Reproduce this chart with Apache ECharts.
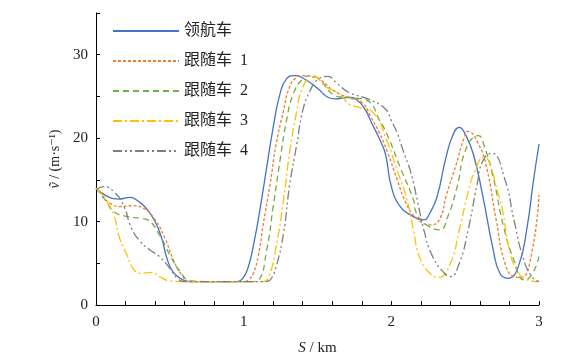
<!DOCTYPE html>
<html><head><meta charset="utf-8">
<script src="https://cdn.jsdelivr.net/npm/echarts@6/dist/echarts.min.js"></script>
<style>html,body{margin:0;padding:0;background:#fff}#c{width:565px;height:363px}</style>
</head><body><div id="c"></div>
<script>
const seriesNames = ['领航车', '跟随车  1', '跟随车  2', '跟随车  3', '跟随车  4'];
const xTickLabels = ['0', '1', '2', '3'];
const yTickLabels = ['0', '10', '20', '30'];

const leader = [[0,14.0],[0.08,13.0],[0.16,12.7],[0.23,12.9],[0.29,12.4],[0.34,11.6],[0.40,10.0],[0.445,8.0],[0.48,5.6],[0.52,4.0],[0.57,3.2],[0.63,2.8],[0.8,2.8],[0.95,2.8],[0.99,3.1],[1.03,4.5],[1.07,7.5],[1.11,11.4],[1.156,16.5],[1.20,21.3],[1.246,25.3],[1.29,27.1],[1.35,27.5],[1.42,27.0],[1.505,25.9],[1.57,24.9],[1.62,24.7],[1.71,24.9],[1.765,24.6],[1.82,23.5],[1.87,21.7],[1.92,19.9],[1.96,18.1],[2.00,14.2],[2.06,11.8],[2.13,10.8],[2.22,10.2],[2.26,11.0],[2.31,13.0],[2.37,17.7],[2.42,20.5],[2.46,21.3],[2.50,20.5],[2.555,18.1],[2.62,13.0],[2.69,6.6],[2.735,3.8],[2.79,3.2],[2.86,4.6],[2.92,9.4],[2.96,14.6],[3.0,19.3]];
const follower1 = [[0,14.0],[0.05,13.0],[0.095,12.2],[0.16,11.8],[0.25,11.9],[0.32,11.6],[0.40,10.2],[0.467,8.0],[0.52,5.6],[0.58,3.6],[0.64,2.8],[0.8,2.8],[1.0,2.8],[1.03,3.0],[1.065,3.8],[1.10,6.0],[1.13,9.4],[1.18,14.6],[1.22,19.3],[1.27,23.3],[1.31,26.1],[1.36,27.3],[1.40,27.5],[1.47,27.3],[1.52,27.0],[1.61,25.7],[1.72,24.8],[1.80,24.3],[1.86,22.6],[1.92,20.6],[1.97,18.5],[2.04,15.0],[2.10,12.2],[2.17,10.4],[2.27,9.6],[2.33,10.4],[2.37,13.0],[2.44,16.9],[2.49,19.9],[2.52,20.8],[2.59,19.3],[2.645,16.5],[2.71,10.2],[2.77,5.0],[2.83,3.4],[2.88,3.3],[2.95,6.2],[3.0,13.2]];
const follower2 = [[0,14.0],[0.07,12.4],[0.12,11.2],[0.21,10.6],[0.30,10.4],[0.35,10.2],[0.43,8.4],[0.50,6.0],[0.57,4.0],[0.64,2.9],[0.8,2.8],[1.05,2.8],[1.10,3.0],[1.156,6.6],[1.20,11.8],[1.246,17.3],[1.29,22.1],[1.336,25.3],[1.40,27.1],[1.46,27.5],[1.52,26.9],[1.60,25.3],[1.67,24.9],[1.76,24.8],[1.855,24.3],[1.91,22.5],[1.97,20.5],[2.06,16.5],[2.15,12.6],[2.17,11.0],[2.24,9.6],[2.33,9.0],[2.38,10.5],[2.44,13.8],[2.51,18.9],[2.59,20.3],[2.63,19.0],[2.69,15.3],[2.76,9.4],[2.83,5.4],[2.90,3.0],[2.95,3.6],[3.0,5.8]];
const follower3 = [[0,14.0],[0.05,13.0],[0.12,10.8],[0.16,8.0],[0.21,6.0],[0.25,4.4],[0.30,3.8],[0.38,3.9],[0.43,3.4],[0.50,2.9],[0.6,2.8],[1.0,2.8],[1.13,2.8],[1.17,3.4],[1.22,7.0],[1.27,12.6],[1.31,18.1],[1.36,23.3],[1.40,26.1],[1.47,27.5],[1.56,26.1],[1.65,25.3],[1.72,24.0],[1.78,23.7],[1.88,23.0],[1.97,19.7],[2.04,16.1],[2.10,13.0],[2.15,9.0],[2.19,5.8],[2.26,3.8],[2.32,3.3],[2.40,5.0],[2.46,9.0],[2.52,13.5],[2.56,15.8],[2.63,17.8],[2.67,16.8],[2.71,14.2],[2.75,11.6],[2.80,6.6],[2.85,4.2],[2.92,3.0],[3.0,2.8]];
const follower4 = [[0,13.8],[0.05,14.2],[0.12,13.6],[0.185,12.0],[0.24,9.2],[0.30,7.6],[0.365,6.6],[0.43,5.8],[0.50,4.4],[0.55,3.2],[0.6,2.8],[1.0,2.8],[1.15,2.8],[1.18,3.0],[1.22,4.6],[1.27,8.6],[1.31,14.2],[1.36,19.3],[1.40,23.3],[1.45,25.7],[1.50,27.0],[1.57,27.4],[1.63,26.6],[1.71,25.5],[1.84,24.7],[1.96,23.5],[2.00,22.1],[2.04,20.6],[2.08,18.5],[2.13,16.0],[2.18,12.2],[2.22,9.0],[2.28,5.8],[2.36,3.8],[2.40,3.4],[2.46,5.0],[2.52,9.0],[2.58,14.4],[2.62,17.3],[2.68,18.2],[2.77,15.0],[2.83,10.2],[2.89,5.8],[2.95,3.4],[3.0,2.8]];

const allData = [leader, follower1, follower2, follower3, follower4];
const colors = ['#4472C4', '#ED7D31', '#70AD47', '#FFC000', '#7F7F7F'];
const dashes = ['solid', [3, 2], [6, 4], [9, 3, 2, 3], [9, 3, 2, 3, 2, 3]];

const serif = 'Liberation Serif, "DejaVu Serif", "Noto Sans CJK SC", serif';
const chart = echarts.init(document.getElementById('c'));
chart.setOption({
  animation: false,
  grid: { left: 96, right: 26, top: 13, bottom: 58 },
  legend: {
    orient: 'vertical', left: 112, top: 23, padding: 0,
    itemWidth: 66, itemHeight: 14, itemGap: 14,
    itemStyle: { opacity: 0 },
    textStyle: { fontFamily: serif, fontSize: 16, color: '#222' },
    data: seriesNames
  },
  xAxis: {
    type: 'value', min: 0, max: 3, interval: 0.2,
    name: '{i|S} / km', nameLocation: 'middle', nameGap: 36,
    nameTextStyle: { fontFamily: serif, fontSize: 15, color: '#222',
      rich: { i: { fontStyle: 'italic', fontFamily: serif, fontSize: 15, color: '#222' } } },
    axisLine: { lineStyle: { color: '#000', width: 1 } },
    axisTick: { inside: true, length: 4, lineStyle: { color: '#000' } },
    axisLabel: { margin: 10, fontFamily: serif, fontSize: 15, color: '#222',
      formatter: v => { const r = Math.round(v); return Math.abs(v - r) < 1e-6 ? xTickLabels[r] : ''; } },
    splitLine: { show: false }
  },
  yAxis: {
    type: 'value', min: 0, max: 35, interval: 5,
    name: '{i|ṽ} / (m·s⁻¹)', nameLocation: 'middle', nameGap: 34, nameRotate: 90,
    nameTextStyle: { fontFamily: serif, fontSize: 14, color: '#222',
      rich: { i: { fontStyle: 'italic', fontFamily: serif, fontSize: 14, color: '#222' } } },
    axisLine: { show: true, lineStyle: { color: '#000', width: 1 } },
    axisTick: { show: true, inside: true, length: 4, lineStyle: { color: '#000' } },
    axisLabel: { margin: 8, fontFamily: serif, fontSize: 15, color: '#222',
      formatter: v => (v % 10 === 0 ? yTickLabels[v / 10] : '') },
    splitLine: { show: false }
  },
  series: allData.map((d, i) => ({
    name: seriesNames[i], type: 'line', data: d, smooth: 0.5,
    symbol: 'none', showSymbol: false, color: colors[i],
    lineStyle: { color: colors[i], width: 1.3, type: dashes[i] }
  }))
});
</script></body></html>
